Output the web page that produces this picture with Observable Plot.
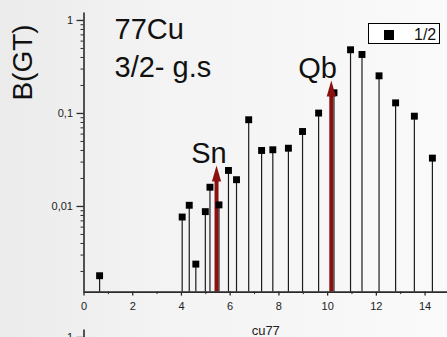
<!DOCTYPE html>
<html>
<head>
<meta charset="utf-8">
<script src="https://cdn.jsdelivr.net/npm/d3@7"></script>
<script src="https://cdn.jsdelivr.net/npm/@observablehq/plot@0.6"></script>
<style>
  html, body { margin: 0; padding: 0; width: 447px; height: 337px; overflow: hidden; }
  body {
    position: relative;
    background: linear-gradient(to right, #ebebeb 0%, #f3f3f3 35%, #fafafa 100%);
    font-family: "Liberation Sans", Arial, sans-serif;
    color: #111;
  }
  #chart, #below { position: absolute; left: 0; }
  #chart { top: 0; }
  #below { top: 317px; }
  #chart svg, #below svg { background: transparent; overflow: visible; }
  .legend {
    position: absolute; left: 368px; top: 23px; width: 72px; height: 21px;
    box-sizing: border-box; border: 1px solid #000; background: #fff;
  }
  .legend .sw { position: absolute; left: 15px; top: 6px; width: 10px; height: 10px; background: #000; }
  .legend .lb { position: absolute; left: 45px; top: 3px; font-size: 16px; line-height: 16px; }
</style>
</head>
<body>
<div id="chart"></div>
<div id="below"></div>
<div class="legend"><span class="sw"></span><span class="lb">1/2</span></div>
<script>
// Gamow-Teller strength of 77Cu (3/2- ground state) versus excitation energy
const energies  = [0.64, 4.03, 4.32, 4.59, 4.98, 5.17, 5.54, 5.93, 6.26, 6.76, 7.29,
                   7.75, 8.39, 8.97, 9.63, 10.26, 10.94, 11.41, 12.11, 12.79, 13.56, 14.30];
const strengths = [0.0018, 0.0077, 0.0103, 0.0024, 0.0088, 0.0161, 0.0104, 0.0244, 0.0194, 0.0856, 0.0400,
                   0.0407, 0.0423, 0.064, 0.101, 0.167, 0.484, 0.431, 0.254, 0.130, 0.0935, 0.0331];

// Threshold markers (neutron separation energy Sn and Q-value Qb)
const markerNames    = ["Sn", "Qb"];
const markerEnergies = [5.44, 10.15];
const markerTips     = [0.0276, 0.226];
const markerLabelX   = [5.13, 9.59];
const markerLabelY   = [0.029, 0.238];

// Axis ticks
const xTicks = [0, 2, 4, 6, 8, 10, 12, 14];
const xMinorTicks = [1, 3, 5, 7, 9, 11, 13];
const yTicks = [0.01, 0.1, 1];
const yTickLabels = ["0,01", "0,1", "1"];
const yMinorTicks = [0.002, 0.003, 0.004, 0.005, 0.006, 0.007, 0.008, 0.009,
                     0.02, 0.03, 0.04, 0.05, 0.06, 0.07, 0.08, 0.09,
                     0.2, 0.3, 0.4, 0.5, 0.6, 0.7, 0.8, 0.9];

const xDomain = [0, 14.92];
const yDomain = [0.0012, 1.2];
const yMin = yDomain[0];
const arrowColor = "#8b1111";
const axisColor = "#2a2a2a";

const lines = energies.map((e, i) => ({e, b: strengths[i]}));
const markers = markerNames.map((name, i) => ({
  name, e: markerEnergies[i], tip: markerTips[i], lx: markerLabelX[i], ly: markerLabelY[i]
}));

// slender filled arrow head with its tip at the anchor point
const arrowHead = {
  draw(context) {
    context.moveTo(0, 0);
    context.lineTo(4.6, 16);
    context.lineTo(-4.6, 16);
    context.closePath();
  }
};

const fontFamily = '"Liberation Sans", Arial, sans-serif';

const chart = Plot.plot({
  width: 447,
  height: 337,
  marginLeft: 83.5,
  marginRight: 0,
  marginTop: 12.6,
  marginBottom: 45.4,
  style: {background: "transparent", fontFamily, fontSize: "11px", color: "#222"},
  x: {domain: xDomain},
  y: {type: "log", domain: yDomain},
  marks: [
    // vertical stems of the strength distribution
    Plot.ruleX(lines, {x: "e", y1: yMin, y2: "b", stroke: "#1c1c1c", strokeWidth: 1.2}),
    // arrow shafts
    Plot.ruleX(markers, {x: "e", y1: "tip", y2: yMin, insetTop: 12, stroke: arrowColor, strokeWidth: 4}),
    // data points
    Plot.dot(lines, {x: "e", y: "b", symbol: "square", r: 3.9, fill: "#000"}),
    // arrow heads
    Plot.dot(markers, {x: "e", y: "tip", symbol: arrowHead, fill: arrowColor}),
    Plot.text(markers, {x: "lx", y: "ly", text: "name", fontSize: 29, lineAnchor: "bottom", textAnchor: "middle", fill: "#111"}),
    // axes
    Plot.ruleX([0], {stroke: axisColor, strokeWidth: 1.6}),
    Plot.ruleY([yMin], {stroke: axisColor, strokeWidth: 1.6}),
    Plot.axisX(xTicks, {tickSize: 4, tickPadding: 6, label: null, stroke: axisColor, strokeWidth: 1.3}),
    Plot.axisX(xMinorTicks, {tickSize: 2.5, tickFormat: () => "", label: null, stroke: axisColor}),
    Plot.axisY(yTicks, {tickSize: 7, tickPadding: 4, label: null, stroke: axisColor, strokeWidth: 1.3,
      tickFormat: (d) => yTickLabels[yTicks.indexOf(d)]}),
    Plot.axisY(yMinorTicks, {tickSize: 3, tickFormat: () => "", label: null, stroke: axisColor}),
    // titles
    Plot.text(["77Cu\n3/2- g.s"], {text: (d) => d, frameAnchor: "top-left", lineAnchor: "top",
      textAnchor: "start", dx: 30.5, dy: 0, fontSize: 29, lineHeight: 1.28, fill: "#111"}),
    Plot.text(["B(GT)"], {text: (d) => d, frameAnchor: "top-left", rotate: -90, textAnchor: "middle",
      lineAnchor: "middle", dx: -60.5, dy: 49.4, fontSize: 28, fill: "#111"}),
    Plot.text(["cu77"], {text: (d) => d, frameAnchor: "bottom", lineAnchor: "bottom", dy: 42.4,
      fontSize: 13, fill: "#222"})
  ]
});
document.getElementById("chart").append(chart);

// top of the next panel (same axis layout); only its y axis reaches into view
const below = Plot.plot({
  width: 447,
  height: 113,
  marginLeft: 83.5,
  marginRight: 0,
  marginTop: 12.6,
  marginBottom: 0,
  style: {background: "transparent", fontFamily, fontSize: "11px", color: "#222"},
  x: {domain: xDomain, axis: null},
  y: {type: "log", domain: [0.1, 1.2]},
  marks: [
    Plot.ruleX([0], {stroke: axisColor, strokeWidth: 1.6}),
    Plot.axisY([1], {tickSize: 7, tickPadding: 4, label: null, stroke: axisColor, strokeWidth: 1.3,
      tickFormat: () => "1"}),
    Plot.axisY(yMinorTicks.filter((d) => d > 0.1), {tickSize: 3, tickFormat: () => "", label: null, stroke: axisColor})
  ]
});
document.getElementById("below").append(below);
</script>
</body>
</html>
